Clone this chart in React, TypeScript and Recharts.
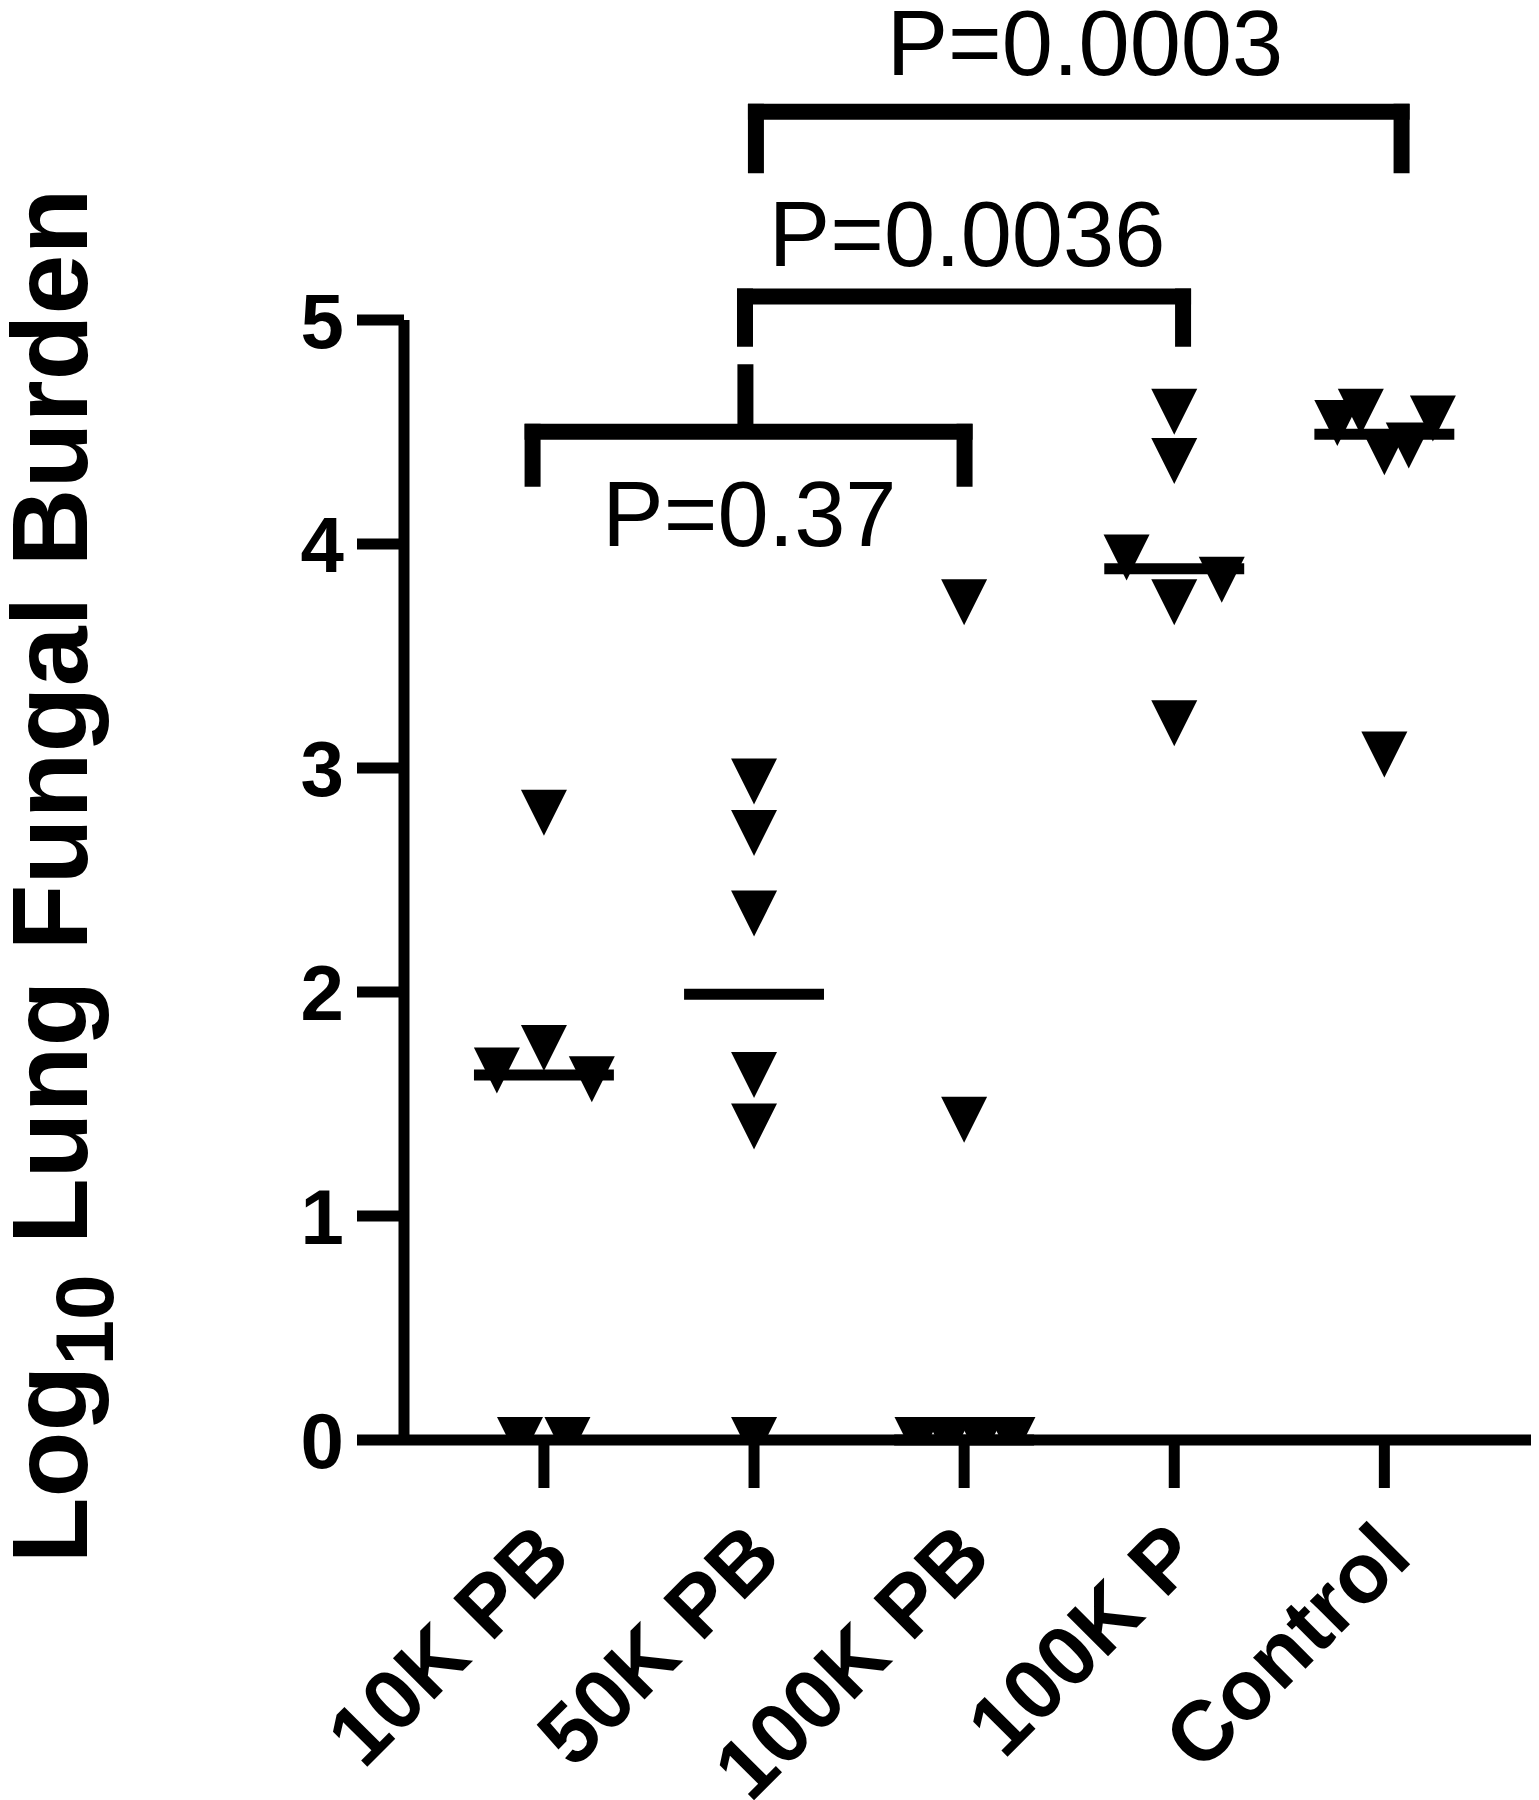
import React from "react";
import {
  ScatterChart,
  Scatter,
  XAxis,
  YAxis,
  ReferenceLine,
  ReferenceDot,
} from "recharts";

const FONT = '"Liberation Sans", Arial, Helvetica, sans-serif';

const groups = ["10K PB", "50K PB", "100K PB", "100K P", "Control"];
const yTicks = [0, 1, 2, 3, 4, 5];

// log10 lung fungal burden per mouse, with the horizontal spread used in the plot
const pb10k = [2.8, 1.75, 1.65, 1.61, 0, 0];
const pb10kSpread = [0, 0, -0.224, 0.228, -0.114, 0.112];
const pb50k = [2.94, 2.71, 2.35, 1.63, 1.4, 0];
const pb50kSpread = [0, 0, 0, 0, 0, 0];
const pb100k = [3.74, 1.43, 0, 0, 0, 0];
const pb100kSpread = [0, 0, -0.222, -0.074, 0.078, 0.23];
const p100k = [4.59, 4.37, 3.94, 3.84, 3.74, 3.2];
const p100kSpread = [0, 0, -0.227, 0.226, 0, 0];
const control = [4.54, 4.59, 4.41, 4.44, 4.56, 3.06];
const controlSpread = [-0.224, -0.112, 0, 0.116, 0.231, 0];

const values = [pb10k, pb50k, pb100k, p100k, control];
const spreads = [pb10kSpread, pb50kSpread, pb100kSpread, p100kSpread, controlSpread];

// comparison brackets (x in group units, y in log units)
const brackets = [
  { from: -0.054, to: 2.002, level: 4.501, drop: 4.256, stemX: 0.959, stemTop: 4.803 },
  { from: 0.957, to: 3.042, level: 5.105, drop: 4.881 },
  { from: 1.009, to: 4.082, level: 5.93, drop: 5.655 },
];
const pLabels = [
  { text: "P=0.37", x: 0.978, y: 4.138 },
  { text: "P=0.0036", x: 2.014, y: 5.386 },
  { text: "P=0.0003", x: 2.575, y: 6.241 },
];

const X_DOMAIN = [-0.666, 4.698];
const CHART_W = 1539;
const CHART_H = 1800;
const MARGIN = { top: 320, right: 8, bottom: 0, left: 0 };
const Y_AXIS_W = 404;
const X_AXIS_H = 360;
const PLOT_W = CHART_W - MARGIN.right - Y_AXIS_W;
const PLOT_H = CHART_H - MARGIN.top - X_AXIS_H;

const BRACKET_W = 16;
const halfX = (BRACKET_W / 2) * ((X_DOMAIN[1] - X_DOMAIN[0]) / PLOT_W);
const halfY = (BRACKET_W / 2) * (5 / PLOT_H);

const points = values.flatMap((arr, g) =>
  arr.map((v, i) => ({ x: g + spreads[g][i], y: v }))
);

const median = (arr: number[]) => {
  const s = [...arr].sort((a, b) => a - b);
  const m = Math.floor(s.length / 2);
  return s.length % 2 ? s[m] : (s[m - 1] + s[m]) / 2;
};
const medians = values.map(median);

const DownTriangle = (props: any) => {
  const { cx, cy } = props;
  const h = 23;
  return (
    <polygon
      points={`${cx - h},${cy - h} ${cx + h},${cy - h} ${cx},${cy + h}`}
      fill="#000"
    />
  );
};

const GroupTick = (props: any) => {
  const { x, y, payload } = props;
  return (
    <text
      transform={`translate(${x + 30},${y + 72}) rotate(-45)`}
      textAnchor="end"
      fontSize={85}
      fontWeight={700}
      fontFamily={FONT}
      fill="#000"
    >
      {groups[payload.value]}
    </text>
  );
};

const YTitle = () => (
  <text
    transform="translate(87,876) rotate(-90)"
    textAnchor="middle"
    fontSize={108}
    fontWeight={700}
    fontFamily={FONT}
    fill="#000"
  >
    Log
    <tspan fontSize={82} dy={26}>
      10
    </tspan>
    <tspan dy={-26}> Lung Fungal Burden</tspan>
  </text>
);

const seg = (x1: number, y1: number, x2: number, y2: number) => [
  { x: x1, y: y1 },
  { x: x2, y: y2 },
];

export default function App() {
  const lines: any[] = [];
  brackets.forEach((b) => {
    lines.push(seg(b.from - halfX, b.level, b.to + halfX, b.level));
    lines.push(seg(b.from, b.level + halfY, b.from, b.drop));
    lines.push(seg(b.to, b.level + halfY, b.to, b.drop));
    if (b.stemX !== undefined) lines.push(seg(b.stemX, b.level, b.stemX, b.stemTop));
  });

  return (
    <div style={{ width: CHART_W, height: CHART_H, background: "#fff" }}>
      <style>{"body{margin:0}"}</style>
      <ScatterChart width={CHART_W} height={CHART_H} margin={MARGIN}>
        <XAxis
          type="number"
          dataKey="x"
          domain={X_DOMAIN}
          allowDataOverflow
          ticks={[0, 1, 2, 3, 4]}
          interval={0}
          height={X_AXIS_H}
          tickSize={48}
          tickMargin={0}
          axisLine={{ stroke: "#000", strokeWidth: 11 }}
          tickLine={{ stroke: "#000", strokeWidth: 11 }}
          tick={<GroupTick />}
        />
        <YAxis
          type="number"
          dataKey="y"
          domain={[0, 5]}
          allowDataOverflow
          ticks={yTicks}
          interval={0}
          width={Y_AXIS_W}
          tickSize={47}
          tickMargin={13}
          axisLine={{ stroke: "#000", strokeWidth: 11 }}
          tickLine={{ stroke: "#000", strokeWidth: 11 }}
          tick={{ fontSize: 78, fontWeight: 700, fill: "#000", fontFamily: FONT }}
          label={{ content: () => <YTitle /> }}
        />
        <Scatter data={points} shape={<DownTriangle />} isAnimationActive={false} />
        {medians.map((m, g) => (
          <ReferenceLine
            key={`med-${g}`}
            segment={seg(g - 0.333, m, g + 0.333, m)}
            stroke="#000"
            strokeWidth={11}
            ifOverflow="visible"
          />
        ))}
        {lines.map((s, i) => (
          <ReferenceLine
            key={`br-${i}`}
            segment={s}
            stroke="#000"
            strokeWidth={BRACKET_W}
            ifOverflow="visible"
          />
        ))}
        {pLabels.map((p) => (
          <ReferenceDot
            key={p.text}
            x={p.x}
            y={p.y}
            r={1}
            fill="none"
            stroke="none"
            ifOverflow="visible"
            label={{
              value: p.text,
              position: "center",
              fontSize: 92,
              fill: "#000",
              fontFamily: FONT,
            }}
          />
        ))}
      </ScatterChart>
    </div>
  );
}
